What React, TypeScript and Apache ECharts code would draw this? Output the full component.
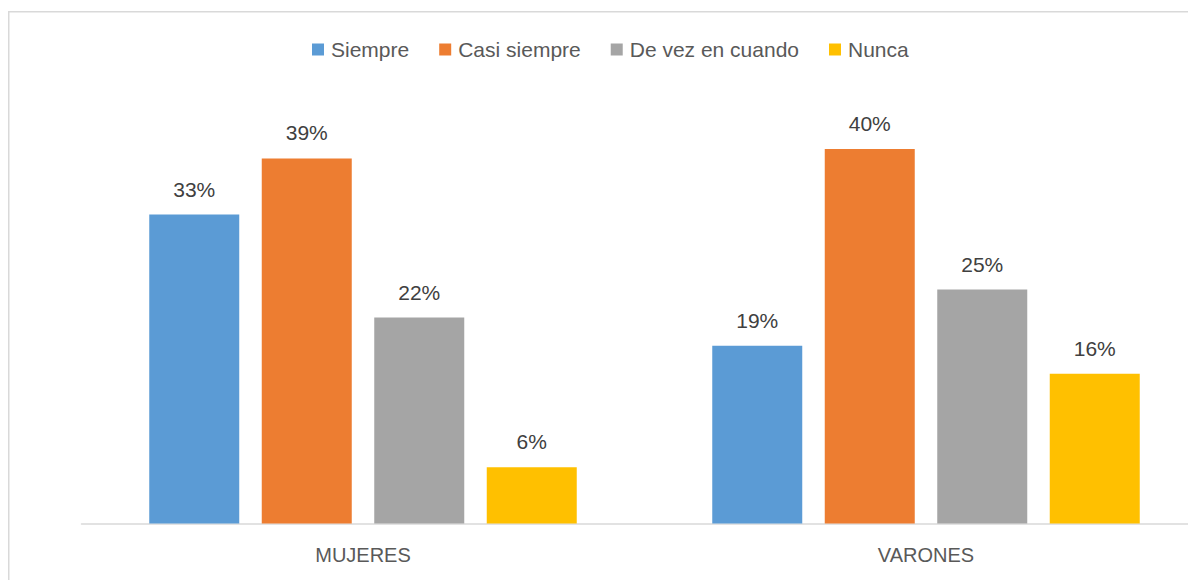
import React, { useEffect, useRef } from "react";
import * as echarts from "echarts";

const categories = ["MUJERES", "VARONES"];
const seriesNames = ["Siempre", "Casi siempre", "De vez en cuando", "Nunca"];
const siempre = [33, 19];
const casiSiempre = [39, 40];
const deVez = [22, 25];
const nunca = [6, 16];
const colors = ["#5B9BD5", "#ED7D31", "#A5A5A5", "#FFC000"];

const FONT = "Liberation Sans";

export default function App() {
  const ref = useRef<HTMLDivElement>(null);
  useEffect(() => {
    if (!ref.current) return;
    const chart = echarts.init(ref.current, null, { renderer: "svg" });
    const values = [siempre, casiSiempre, deVez, nunca];
    chart.setOption({
      animation: false,
      textStyle: { fontFamily: FONT },
      graphic: [
        {
          type: "rect",
          shape: { x: 0.75, y: 3.75, width: 3000, height: 3000 },
          style: { fill: "none", stroke: "#d9d9d9", lineWidth: 1.5 },
          silent: true,
        },
      ],
      legend: {
        top: 31,
        left: 304,
        padding: 0,
        itemWidth: 12,
        itemHeight: 12,
        itemGap: 30,
        icon: "rect",
        textStyle: { fontSize: 21, color: "#595959", fontFamily: FONT, padding: [0, 0, 0, 2] },
        data: seriesNames,
      },
      grid: { left: 73.5, top: 94.3, width: 1126, height: 421.2 },
      xAxis: {
        type: "category",
        data: categories,
        axisLine: { lineStyle: { color: "#d9d9d9", width: 1.5 } },
        axisTick: { show: false },
        axisLabel: { fontSize: 20, color: "#595959", margin: 21, fontFamily: FONT },
      },
      yAxis: {
        type: "value",
        min: 0,
        max: 45,
        show: false,
        splitLine: { show: false },
      },
      series: seriesNames.map((name, i) => ({
        name,
        type: "bar",
        data: values[i],
        barWidth: 90,
        barGap: "25%",
        itemStyle: { color: colors[i] },
        label: {
          show: true,
          position: "top",
          distance: 15,
          formatter: "{c}%",
          fontSize: 21,
          color: "#404040",
          fontFamily: FONT,
        },
      })),
    });
    return () => chart.dispose();
  }, []);
  return (
    <div style={{ width: 1188, height: 572, overflow: "hidden" }}>
      <div ref={ref} style={{ width: 1260, height: 572 }} />
    </div>
  );
}
